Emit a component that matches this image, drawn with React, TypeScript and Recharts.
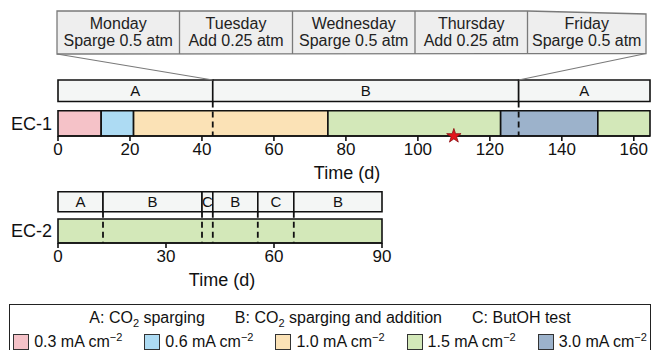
import React from 'react';
import {
  ComposedChart,
  XAxis,
  YAxis,
  ZAxis,
  ReferenceArea,
  ReferenceLine,
  Scatter,
} from 'recharts';

// EC-1 timeline (days)
const ec1CurrentBounds = [0, 12, 21, 75, 123, 150, 164.5];
const ec1CurrentLevels = [0.3, 0.6, 1.0, 1.5, 3.0, 1.5];
const ec1PhaseBounds = [0, 43, 128, 164.5];
const ec1Phases = ['A', 'B', 'A'];
const ec1Stars = [110];
const ec1Ticks = [0, 20, 40, 60, 80, 100, 120, 140, 160];

// EC-2 timeline (days)
const ec2CurrentBounds = [0, 90];
const ec2CurrentLevels = [1.5];
const ec2PhaseBounds = [0, 12.5, 40, 43, 55.5, 65.5, 90];
const ec2Phases = ['A', 'B', 'C', 'B', 'C', 'B'];
const ec2Ticks = [0, 30, 60, 90];

// weekly schedule callout
const weekDays = ['Monday', 'Tuesday', 'Wednesday', 'Thursday', 'Friday'];
const weekActions = ['Sparge 0.5 atm', 'Add 0.25 atm', 'Sparge 0.5 atm', 'Add 0.25 atm', 'Sparge 0.5 atm'];

// legend
const phaseKeys = ['A', 'B', 'C'];
const currentLevels = [0.3, 0.6, 1.0, 1.5, 3.0];
const currentColors = ['#F5C2C8', '#ADDBF3', '#FBE2B6', '#D3E8B9', '#9CB2CB'];

const FONT = '"Liberation Sans", Arial, sans-serif';
const INK = '#111';
const PHASE_FILL = '#F4F6F5';

const colorFor = (level: number) => currentColors[currentLevels.indexOf(level)];

type PanelProps = {
  name: string;
  top: number;
  width: number;
  height: number;
  marginRight: number;
  marginBottom: number;
  yDomain: [number, number];
  domainMax: number;
  ticks: number[];
  phaseBounds: number[];
  phases: string[];
  currentBounds: number[];
  levels: number[];
  rows: { phaseTop: number; phaseBottom: number; curTop: number; curBottom: number };
  stars?: number[];
  timeDx: number;
  children?: React.ReactNode;
};

const Panel = (p: PanelProps) => {
  const { rows } = p;
  const inner = p.phaseBounds.slice(1, -1);
  const starData = (p.stars || []).map((d) => ({ day: d, y: rows.curBottom }));
  // segment boundary points, so the axes always have data behind them
  const boundData = p.currentBounds.map((d) => ({ day: d, y: rows.curBottom }));
  return (
    <div style={{ position: 'absolute', left: 0, top: p.top }}>
      <ComposedChart
        width={p.width}
        height={p.height}
        margin={{ top: 0, left: 58, right: p.marginRight, bottom: p.marginBottom }}
      >
        <XAxis
          type="number"
          dataKey="day"
          domain={[0, p.domainMax]}
          ticks={p.ticks}
          interval={0}
          height={30}
          tickSize={5}
          tickMargin={2}
          tick={{ fontSize: 17, fill: INK }}
          axisLine={{ stroke: INK, strokeWidth: 1.6 }}
          tickLine={{ stroke: INK, strokeWidth: 1.6 }}
          label={{ value: 'Time (d)', position: 'bottom', offset: 0, dx: p.timeDx, fontSize: 18, fill: INK }}
        />
        <YAxis type="number" dataKey="y" domain={p.yDomain} reversed hide />
        <ZAxis range={[70, 70]} />

        <Scatter data={boundData} shape={() => <g />} isAnimationActive={false} />

        {p.phases.map((ph, i) => (
          <ReferenceArea
            key={'ph' + i}
            x1={p.phaseBounds[i]}
            x2={p.phaseBounds[i + 1]}
            y1={rows.phaseTop}
            y2={rows.phaseBottom}
            fill={PHASE_FILL}
            fillOpacity={1}
            stroke={INK}
            strokeWidth={1.6}
            ifOverflow="visible"
            label={{ value: ph, position: 'center', fontSize: 15, fill: INK }}
          />
        ))}

        {p.levels.map((lv, i) => (
          <ReferenceArea
            key={'cu' + i}
            x1={p.currentBounds[i]}
            x2={p.currentBounds[i + 1]}
            y1={rows.curTop}
            y2={rows.curBottom}
            fill={colorFor(lv)}
            fillOpacity={1}
            stroke={INK}
            strokeWidth={1.6}
            ifOverflow="visible"
          />
        ))}

        <ReferenceArea
          x1={0}
          x2={p.domainMax}
          y1={rows.curTop}
          y2={rows.curBottom}
          fill="none"
          stroke="none"
          ifOverflow="visible"
          label={{ value: p.name, position: 'left', offset: 6, fontSize: 18, fill: INK }}
        />

        {inner.map((b, i) => (
          <ReferenceLine
            key={'d' + i}
            segment={[
              { x: b, y: rows.phaseBottom },
              { x: b, y: rows.curBottom },
            ]}
            stroke={INK}
            strokeWidth={1.8}
            strokeDasharray="6 4"
            ifOverflow="visible"
          />
        ))}

        {p.children}

        {starData.length > 0 && (
          <Scatter
            data={starData}
            shape="star"
            fill="#E3141B"
            stroke="#8A0D10"
            strokeWidth={0.8}
            isAnimationActive={false}
          />
        )}
      </ComposedChart>
    </div>
  );
};

// callout box edges in page pixels (decorative zoom-in panel)
const calloutEdges = [57, 179.5, 292.5, 415, 527.5, 646];

const Callout = () => (
  <svg width={652} height={60} style={{ position: 'absolute', left: 0, top: 0 }}>
    <polygon
      points={`57,11 527.5,11 646,14 646,53.5 57,54`}
      fill="#EEEEEE"
      stroke="#7A7A7A"
      strokeWidth={1.3}
    />
    {calloutEdges.slice(1, -1).map((x) => (
      <line key={x} x1={x} x2={x} y1={11} y2={54} stroke="#7A7A7A" strokeWidth={1.3} />
    ))}
    {weekDays.map((d, i) => {
      const cx = (calloutEdges[i] + calloutEdges[i + 1]) / 2;
      return (
        <g key={d} fontFamily={FONT} fontSize={16} fill="#222" textAnchor="middle">
          <text x={cx} y={29}>{d}</text>
          <text x={cx} y={46}>{weekActions[i]}</text>
        </g>
      );
    })}
  </svg>
);

const supStyle: React.CSSProperties = { fontSize: 11, position: 'relative', top: -6, lineHeight: 0, verticalAlign: 'baseline' };
const subStyle: React.CSSProperties = { fontSize: 11, position: 'relative', top: 4, lineHeight: 0, verticalAlign: 'baseline' };

const Legend = () => (
  <div
    style={{
      position: 'absolute',
      left: 9,
      top: 304,
      width: 642,
      height: 60,
      border: '1.3px solid #222',
      boxSizing: 'border-box',
      fontFamily: FONT,
      fontSize: 16,
      color: INK,
      whiteSpace: 'nowrap',
    }}
  >
    <div style={{ display: 'flex', justifyContent: 'center', gap: 30, marginTop: 3, lineHeight: '20px' }}>
      {phaseKeys.map((k, i) => (
        <span key={k} style={{ flexShrink: 0 }}>
          {k}:{' '}
          {i === 0 && (
            <>
              CO<span style={subStyle}>2</span> sparging
            </>
          )}
          {i === 1 && (
            <>
              CO<span style={subStyle}>2</span> sparging and addition
            </>
          )}
          {i === 2 && <>ButOH test</>}
        </span>
      ))}
    </div>
    <div style={{ display: 'flex', justifyContent: 'center', gap: 22, marginTop: 4, lineHeight: '20px' }}>
      {currentLevels.map((lv, i) => (
        <span key={lv} style={{ display: 'flex', alignItems: 'center', flexShrink: 0 }}>
          <span
            style={{
              display: 'inline-block',
              width: 16,
              height: 16,
              background: currentColors[i],
              border: '1px solid #333',
              boxSizing: 'border-box',
              marginRight: 5,
              flexShrink: 0,
            }}
          />
          <span>
            {lv.toFixed(1)} mA cm<span style={supStyle}>−2</span>
          </span>
        </span>
      ))}
    </div>
  </div>
);

export default function App() {
  return (
    <div style={{ position: 'absolute', left: 0, top: 0, width: 652, height: 350, overflow: 'hidden', background: '#fff', fontFamily: FONT }}>
      <Callout />
      <Panel
        name="EC-1"
        top={0}
        width={652}
        height={185}
        marginRight={2}
        marginBottom={19}
        yDomain={[0, 136]}
        domainMax={164.5}
        ticks={ec1Ticks}
        phaseBounds={ec1PhaseBounds}
        phases={ec1Phases}
        currentBounds={ec1CurrentBounds}
        levels={ec1CurrentLevels}
        rows={{ phaseTop: 80, phaseBottom: 101.5, curTop: 110.7, curBottom: 136 }}
        stars={ec1Stars}
        timeDx={-7}
      >
        <ReferenceLine
          segment={[
            { x: -0.28, y: 54 },
            { x: ec1PhaseBounds[1], y: 80 },
          ]}
          stroke="#7A7A7A"
          strokeWidth={1.2}
          ifOverflow="visible"
        />
        <ReferenceLine
          segment={[
            { x: 163.4, y: 53.5 },
            { x: ec1PhaseBounds[2], y: 80 },
          ]}
          stroke="#7A7A7A"
          strokeWidth={1.2}
          ifOverflow="visible"
        />
      </Panel>
      <Panel
        name="EC-2"
        top={185}
        width={400}
        height={110}
        marginRight={18}
        marginBottom={22}
        yDomain={[185, 243]}
        domainMax={90}
        ticks={ec2Ticks}
        phaseBounds={ec2PhaseBounds}
        phases={ec2Phases}
        currentBounds={ec2CurrentBounds}
        levels={ec2CurrentLevels}
        rows={{ phaseTop: 191.7, phaseBottom: 211.7, curTop: 219, curBottom: 243 }}
        timeDx={2}
      />
      <Legend />
    </div>
  );
}
